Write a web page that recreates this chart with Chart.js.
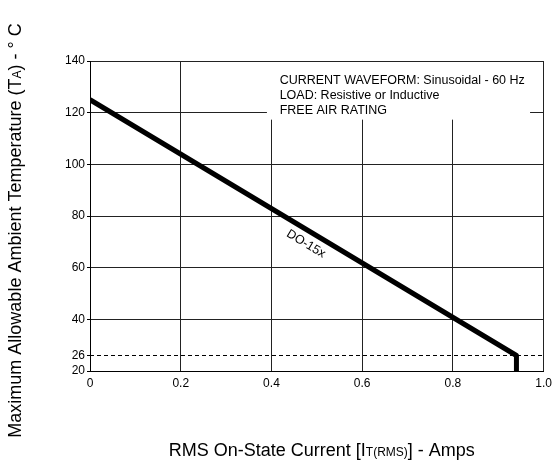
<!DOCTYPE html>
<html>
<head>
<meta charset="utf-8">
<script src="https://cdn.jsdelivr.net/npm/chart.js@4/dist/chart.umd.min.js"></script>
<style>
  html, body { margin: 0; padding: 0; background: #fff; }
  canvas { display: block; }
</style>
</head>
<body>
<canvas id="derating" width="557" height="463"></canvas>
<script>
// derating curve
const currentAmps = [0, 0.94, 0.94];
const maxAmbientC = [125, 26, 20];

// 26 C reference line
const refLineAmps = [0, 1];
const refLineTemp = [26, 26];

const yTicks = [20, 26, 40, 60, 80, 100, 120, 140];
const noteLines = [
    'CURRENT WAVEFORM: Sinusoidal - 60 Hz',
    'LOAD: Resistive or Inductive',
    'FREE AIR RATING'
];
const curveLabel = 'DO-15x';

const FONT = 'Arial, "Liberation Sans", sans-serif';

function toPoints(xs, ys) {
    return xs.map((x, i) => ({ x: x, y: ys[i] }));
}

// draws text made of [text, isSub] parts, centred on (cx, cy)
function drawParts(ctx, parts, cx, cy, size, subSize) {
    let total = 0;
    parts.forEach(p => {
        ctx.font = (p[1] ? subSize : size) + 'px ' + FONT;
        total += ctx.measureText(p[0]).width;
    });
    let x = cx - total / 2;
    ctx.textAlign = 'left';
    ctx.textBaseline = 'middle';
    parts.forEach(p => {
        ctx.font = (p[1] ? subSize : size) + 'px ' + FONT;
        ctx.fillText(p[0], x, p[1] ? cy + 2 : cy);
        x += ctx.measureText(p[0]).width;
    });
}

const extras = {
    id: 'extras',
    beforeDatasetsDraw(chart) {
        const { ctx, scales: { x, y } } = chart;
        // white note box over the grid
        const x1 = x.getPixelForValue(0.39);
        const x2 = x.getPixelForValue(0.97);
        const y1 = y.getPixelForValue(140) + 1;
        const y2 = y.getPixelForValue(117.3);
        ctx.save();
        ctx.fillStyle = '#fff';
        ctx.fillRect(x1, y1, x2 - x1, y2 - y1);
        ctx.fillStyle = '#000';
        ctx.font = '12.5px ' + FONT;
        ctx.textAlign = 'left';
        ctx.textBaseline = 'middle';
        const tx = x.getPixelForValue(0.418);
        noteLines.forEach((t, i) => ctx.fillText(t, tx, y1 + 19 + i * 15));
        ctx.restore();
    },
    afterDraw(chart) {
        const { ctx, scales: { x, y }, chartArea } = chart;
        ctx.save();
        ctx.fillStyle = '#000';

        // curve label, rotated along the line
        const p0 = { x: x.getPixelForValue(currentAmps[0]), y: y.getPixelForValue(maxAmbientC[0]) };
        const p1 = { x: x.getPixelForValue(currentAmps[1]), y: y.getPixelForValue(maxAmbientC[1]) };
        const ang = Math.atan2(p1.y - p0.y, p1.x - p0.x);
        ctx.save();
        ctx.translate(x.getPixelForValue(0.476), y.getPixelForValue(69.2));
        ctx.rotate(ang);
        ctx.font = '12.5px ' + FONT;
        ctx.textAlign = 'center';
        ctx.textBaseline = 'middle';
        ctx.fillText(curveLabel, 0, 0);
        ctx.restore();

        // x axis title
        drawParts(ctx, [['RMS On-State Current [I', false], ['T(RMS)', true], ['] - Amps', false]],
            (chartArea.left + chartArea.right) / 2 + 5, 451, 18, 12);

        // y axis title
        ctx.save();
        ctx.translate(16, chart.height / 2 - 1);
        ctx.rotate(-Math.PI / 2);
        drawParts(ctx, [['Maximum Allowable Ambient Temperature (T', false], ['A', true], [') - \u00b0 C', false]],
            0, 0, 18, 12);
        ctx.restore();
        ctx.restore();
    }
};

new Chart(document.getElementById('derating'), {
    type: 'line',
    data: {
        datasets: [{
            data: toPoints(currentAmps, maxAmbientC),
            borderColor: '#000',
            borderWidth: 5,
            pointRadius: 0,
            tension: 0,
            borderJoinStyle: 'round',
            borderCapStyle: 'butt'
        }, {
            data: toPoints(refLineAmps, refLineTemp),
            borderColor: '#000',
            borderWidth: 1,
            borderDash: [4, 3],
            pointRadius: 0
        }]
    },
    options: {
        responsive: false,
        animation: false,
        layout: { padding: { left: 0, right: 10, top: 61, bottom: 0 } },
        plugins: {
            legend: { display: false },
            tooltip: { enabled: false }
        },
        scales: {
            x: {
                type: 'linear',
                min: 0,
                max: 1,
                afterFit: s => { s.height = 92; },
                ticks: {
                    stepSize: 0.2,
                    color: '#000',
                    padding: 5,
                    font: { size: 12, family: FONT },
                    maxRotation: 0,
                    callback: v => v === 0 ? '0' : v.toFixed(1)
                },
                grid: { color: '#222', lineWidth: 1, drawTicks: false },
                border: { color: '#000', width: 1 }
            },
            y: {
                type: 'linear',
                min: 20,
                max: 140,
                afterFit: s => { s.width = 90; },
                afterBuildTicks: s => { s.ticks = yTicks.map(v => ({ value: v })); },
                ticks: {
                    autoSkip: false,
                    color: '#000',
                    padding: 2,
                    font: { size: 12, family: FONT }
                },
                grid: {
                    color: c => (c.tick && (c.tick.value === 26 || c.tick.value === 20)) ? 'rgba(0,0,0,0)' : '#222',
                    lineWidth: 1,
                    tickLength: 3,
                    tickColor: '#000'
                },
                border: { color: '#000', width: 1 }
            }
        }
    },
    plugins: [extras]
});
</script>
</body>
</html>
